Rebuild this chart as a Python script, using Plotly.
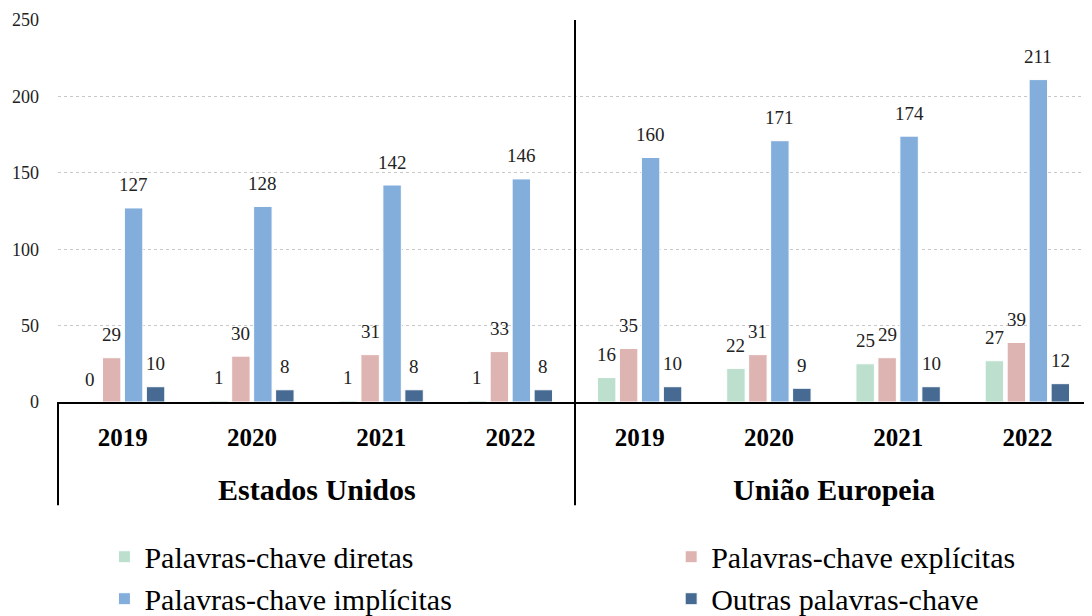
import plotly.graph_objects as go

regions = ["Estados Unidos", "União Europeia"]
years = ["2019", "2020", "2021", "2022"]
series_names = ["Palavras-chave diretas", "Palavras-chave explícitas",
                "Palavras-chave implícitas", "Outras palavras-chave"]
diretas = [0, 1, 1, 1, 16, 22, 25, 27]
explicitas = [29, 30, 31, 33, 35, 31, 29, 39]
implicitas = [127, 128, 142, 146, 160, 171, 174, 211]
outras = [10, 8, 8, 8, 10, 9, 10, 12]
colors = ["#BDDFCE", "#DEB4B2", "#83AEDB", "#466A91"]
legend_of = ["legend", "legend2", "legend", "legend2"]

FONT = "Liberation Serif"
values = [diretas, explicitas, implicitas, outras]
n = len(regions) * len(years)
xs = list(range(n))
ticktext = years * len(regions)
bargap = 0.32

fig = go.Figure()
for k, (name, vals, col) in enumerate(zip(series_names, values, colors)):
    fig.add_trace(go.Bar(x=xs, y=vals, name=name, legend=legend_of[k], legendgroup=name,
                         marker=dict(color=col, line=dict(color="white", width=1))))

slot = (1 - bargap) / len(values)
annotations = []
for i, vals in enumerate(values):
    off = (i - (len(values) - 1) / 2) * slot
    for j, v in enumerate(vals):
        annotations.append(dict(x=xs[j] + off, y=v, text=str(v), showarrow=False,
                                xanchor="center", yanchor="middle", yshift=23,
                                font=dict(family=FONT, size=19, color="#222")))
for k, r in enumerate(regions):
    annotations.append(dict(x=(k + 0.5) / len(regions), xref="paper", y=-0.228, yref="paper",
                            text="<b>%s</b>" % r, showarrow=False,
                            xanchor="center", yanchor="middle",
                            font=dict(family=FONT, size=30, color="black")))

shapes = [
    dict(type="line", xref="paper", yref="paper", x0=0, x1=0, y0=0, y1=-0.27,
         line=dict(color="black", width=2)),
    dict(type="line", xref="paper", yref="paper", x0=0.5, x1=0.5, y0=1, y1=-0.27,
         line=dict(color="black", width=2)),
]

legend_style = dict(orientation="v", yanchor="top", y=-0.337, xanchor="left",
                    font=dict(family=FONT, size=30, color="black"),
                    traceorder="normal", tracegroupgap=7, bgcolor="rgba(0,0,0,0)")

fig.update_layout(
    width=1084, height=608,
    margin=dict(l=50, r=0, t=12, b=214, autoexpand=False),
    paper_bgcolor="white", plot_bgcolor="white",
    barmode="group", bargap=bargap, bargroupgap=0.16,
    font=dict(family=FONT, color="black"),
    annotations=annotations, shapes=shapes,
    legend=dict(x=0.0449, **legend_style),
    legend2=dict(x=0.593, **legend_style),
    showlegend=True,
)
fig.update_xaxes(range=[-0.5, n - 0.5], tickvals=xs, ticktext=ticktext,
                 tickfont=dict(family=FONT, size=25, color="black", weight="bold"),
                 showline=True, linecolor="black", linewidth=2, showgrid=False,
                 ticks="", ticklabelstandoff=12)
fig.update_yaxes(range=[0, 250], dtick=50, showgrid=True, gridcolor="#C8C8C8",
                 griddash="dot", gridwidth=1, zeroline=False, showline=False,
                 tickfont=dict(family=FONT, size=18, color="#222"), ticklabelstandoff=18)

fig.write_html("out.html")
